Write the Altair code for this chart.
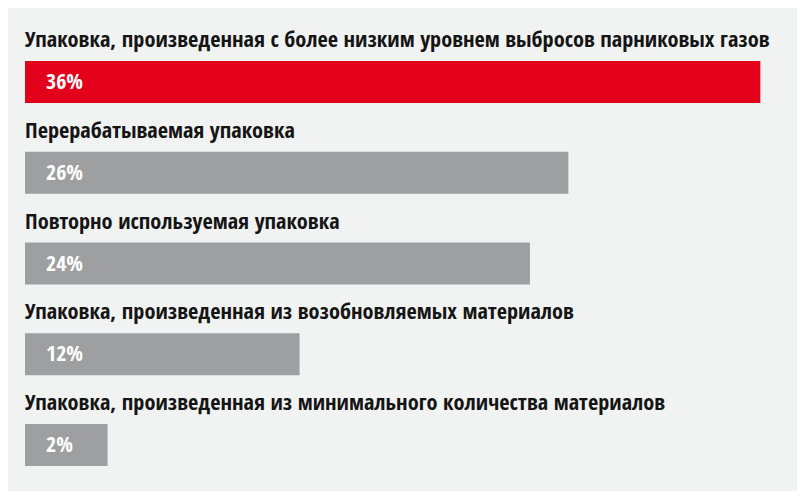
import altair as alt
import pandas as pd

categories = [
    "Упаковка, произведенная с более низким уровнем выбросов парниковых газов",
    "Перерабатываемая упаковка",
    "Повторно используемая упаковка",
    "Упаковка, произведенная из возобновляемых материалов",
    "Упаковка, произведенная из минимального количества материалов",
]
values = [36, 26, 24, 12, 2]
highlight = ["yes", "no", "no", "no", "no"]

df = pd.DataFrame({"category": categories, "value": values, "highlight": highlight})
df["pct"] = df["value"].astype(str) + "%"

X0, X1 = -2.3, 37.91
FONT = "Open Sans Condensed, Roboto Condensed, sans-serif"

xscale = alt.Scale(domain=[X0, X1], nice=False, zero=False)
yscale = alt.Scale(domain=categories, paddingInner=0, paddingOuter=0)

base = alt.Chart(df).encode(
    y=alt.Y("category:N", scale=yscale, sort=categories, axis=None)
)

bars = base.mark_bar(size=42).encode(
    x=alt.X("value:Q", scale=xscale, axis=None),
    x2=alt.datum(X0),
    color=alt.Color(
        "highlight:N",
        scale=alt.Scale(domain=["yes", "no"], range=["#e2001a", "#9d9fa0"]),
        legend=None,
    ),
)

labels = base.mark_text(
    align="left", baseline="alphabetic", dy=-35, font=FONT,
    fontSize=22.3, fontWeight="bold", color="#151515",
).encode(x=alt.datum(X0), text="category:N")

pcts = base.mark_text(
    align="left", baseline="middle", dx=21, font=FONT,
    fontSize=22, fontWeight="bold", color="#ffffff",
).encode(x=alt.datum(X0), text="pct:N")

chart = (
    alt.layer(bars, labels, pcts)
    .properties(
        width=772, height=454,
        autosize=alt.AutoSizeParams(type="none"),
        padding={"left": 17, "top": 28.5, "right": 0, "bottom": 0},
        background="#f1f3f2",
    )
    .configure_view(stroke=None)
)

chart.save("out.html", embed_options={"renderer": "svg", "actions": False})
